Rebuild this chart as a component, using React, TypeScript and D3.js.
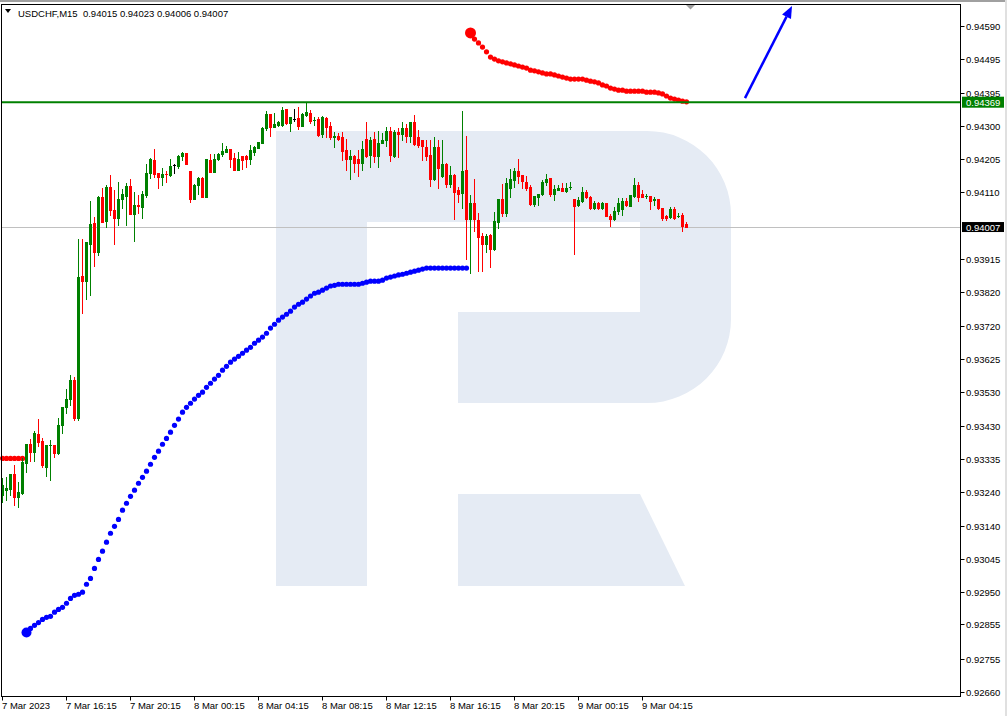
import React from "react";
import * as d3 from "d3";

const SYMBOL = "USDCHF,M15";
const OPEN = [
  0.93229,0.93244,0.93246,0.93290,0.93223,0.93235,0.93322,0.93377,0.93354,0.93406,
  0.93386,0.93310,0.93374,0.93374,0.93351,0.93432,0.93484,0.93508,0.93563,0.93452,
  0.93865,0.93850,0.93957,0.94018,0.93934,0.94094,0.94024,0.94123,0.94056,0.94033,
  0.94088,0.94097,0.94126,0.94045,0.94071,0.94065,0.94100,0.94164,0.94201,0.94164,
  0.94152,0.94161,0.94158,0.94187,0.94184,0.94213,0.94222,0.94169,0.94088,0.94129,
  0.94149,0.94094,0.94201,0.94166,0.94204,0.94219,0.94224,0.94233,0.94207,0.94172,
  0.94213,0.94213,0.94204,0.94224,0.94236,0.94251,0.94294,0.94335,0.94297,0.94303,
  0.94303,0.94349,0.94309,0.94320,0.94323,0.94300,0.94332,0.94338,0.94317,0.94320,
  0.94277,0.94323,0.94300,0.94268,0.94271,0.94268,0.94230,0.94204,0.94213,0.94204,
  0.94193,0.94262,0.94216,0.94262,0.94213,0.94251,0.94259,0.94285,0.94213,0.94282,
  0.94277,0.94294,0.94271,0.94311,0.94268,0.94259,0.94239,0.94216,0.94146,0.94239,
  0.94155,0.94190,0.94132,0.94158,0.94114,0.94105,0.94172,0.94030,0.94076,0.94027,
  0.93981,0.93957,0.93984,0.93943,0.94021,0.94088,0.94047,0.94120,0.94143,0.94169,
  0.94158,0.94137,0.94123,0.94074,0.94094,0.94103,0.94137,0.94149,0.94103,0.94114,
  0.94120,0.94111,0.94123,0.94088,0.94071,0.94082,0.94108,0.94094,0.94062,0.94076,
  0.94062,0.94076,0.94039,0.94030,0.94053,0.94059,0.94082,0.94068,0.94097,0.94129,
  0.94103,0.94097,0.94097,0.94085,0.94088,0.94062,0.94039,0.94036,0.94059,0.94039,
  0.94042,0.94015,
];
const HIGH = [
  0.93278,0.93281,0.93290,0.93316,0.93267,0.93336,0.93377,0.93392,0.93415,0.93450,
  0.93394,0.93374,0.93389,0.93376,0.93452,0.93484,0.93537,0.93577,0.93571,0.93972,
  0.93972,0.93963,0.94082,0.94036,0.94097,0.94120,0.94129,0.94158,0.94114,0.94137,
  0.94117,0.94134,0.94146,0.94108,0.94100,0.94111,0.94190,0.94207,0.94233,0.94164,
  0.94178,0.94169,0.94204,0.94190,0.94216,0.94224,0.94222,0.94169,0.94132,0.94152,
  0.94152,0.94204,0.94219,0.94219,0.94222,0.94251,0.94242,0.94233,0.94222,0.94224,
  0.94213,0.94216,0.94245,0.94242,0.94253,0.94297,0.94343,0.94335,0.94338,0.94314,
  0.94355,0.94349,0.94326,0.94349,0.94355,0.94338,0.94367,0.94346,0.94326,0.94326,
  0.94329,0.94326,0.94311,0.94282,0.94280,0.94282,0.94262,0.94230,0.94216,0.94230,
  0.94256,0.94311,0.94268,0.94282,0.94285,0.94280,0.94297,0.94297,0.94288,0.94294,
  0.94311,0.94306,0.94311,0.94332,0.94288,0.94259,0.94259,0.94259,0.94268,0.94259,
  0.94259,0.94193,0.94184,0.94161,0.94123,0.94343,0.94271,0.94100,0.94146,0.94047,
  0.93989,0.93986,0.93986,0.94050,0.94088,0.94132,0.94149,0.94175,0.94178,0.94204,
  0.94158,0.94155,0.94129,0.94097,0.94103,0.94143,0.94161,0.94149,0.94129,0.94129,
  0.94134,0.94134,0.94137,0.94088,0.94094,0.94123,0.94114,0.94097,0.94082,0.94079,
  0.94079,0.94076,0.94045,0.94065,0.94091,0.94091,0.94091,0.94100,0.94149,0.94137,
  0.94114,0.94103,0.94097,0.94094,0.94088,0.94062,0.94042,0.94065,0.94065,0.94047,
  0.94047,0.94023,
];
const LOW = [
  0.93209,0.93215,0.93229,0.93200,0.93194,0.93232,0.93296,0.93328,0.93328,0.93371,
  0.93310,0.93284,0.93273,0.93339,0.93349,0.93409,0.93467,0.93490,0.93447,0.93447,
  0.93757,0.93798,0.93809,0.93894,0.93926,0.94021,0.94007,0.94042,0.93957,0.94013,
  0.94062,0.94013,0.94045,0.93966,0.94047,0.94033,0.94094,0.94149,0.94152,0.94120,
  0.94129,0.94137,0.94155,0.94164,0.94178,0.94201,0.94190,0.94079,0.94088,0.94103,
  0.94094,0.94094,0.94166,0.94166,0.94201,0.94213,0.94224,0.94181,0.94172,0.94172,
  0.94175,0.94181,0.94190,0.94216,0.94236,0.94251,0.94288,0.94271,0.94297,0.94300,
  0.94300,0.94306,0.94285,0.94314,0.94291,0.94300,0.94329,0.94309,0.94303,0.94271,
  0.94268,0.94268,0.94262,0.94239,0.94259,0.94201,0.94172,0.94146,0.94166,0.94155,
  0.94172,0.94210,0.94181,0.94195,0.94181,0.94251,0.94242,0.94198,0.94210,0.94210,
  0.94259,0.94253,0.94253,0.94245,0.94239,0.94201,0.94201,0.94126,0.94143,0.94120,
  0.94152,0.94123,0.94123,0.94030,0.94079,0.94062,0.93914,0.93873,0.93995,0.93879,
  0.93879,0.93934,0.93891,0.93940,0.94004,0.94039,0.94039,0.94094,0.94123,0.94134,
  0.94120,0.94114,0.94071,0.94068,0.94071,0.94100,0.94129,0.94097,0.94085,0.94114,
  0.94111,0.94108,0.94117,0.93928,0.94068,0.94079,0.94091,0.94059,0.94059,0.94059,
  0.94059,0.94039,0.94010,0.94027,0.94045,0.94042,0.94068,0.94068,0.94094,0.94082,
  0.94094,0.94091,0.94059,0.94071,0.94059,0.94027,0.94027,0.94033,0.94030,0.94036,
  0.93995,0.94006,
];
const CLOSE = [
  0.93258,0.93249,0.93290,0.93223,0.93238,0.93325,0.93377,0.93354,0.93409,0.93383,
  0.93316,0.93374,0.93375,0.93351,0.93432,0.93484,0.93508,0.93563,0.93452,0.93862,
  0.93850,0.93963,0.94016,0.93934,0.94094,0.94021,0.94123,0.94056,0.94033,0.94088,
  0.94103,0.94126,0.94045,0.94071,0.94068,0.94103,0.94164,0.94204,0.94161,0.94152,
  0.94161,0.94160,0.94184,0.94187,0.94213,0.94222,0.94190,0.94088,0.94129,0.94149,
  0.94094,0.94204,0.94166,0.94204,0.94219,0.94227,0.94233,0.94204,0.94172,0.94204,
  0.94201,0.94204,0.94230,0.94239,0.94253,0.94294,0.94335,0.94297,0.94306,0.94311,
  0.94346,0.94309,0.94326,0.94320,0.94300,0.94335,0.94340,0.94314,0.94318,0.94274,
  0.94326,0.94297,0.94268,0.94271,0.94262,0.94227,0.94204,0.94213,0.94193,0.94193,
  0.94233,0.94213,0.94259,0.94213,0.94251,0.94259,0.94285,0.94216,0.94282,0.94277,
  0.94294,0.94271,0.94311,0.94248,0.94245,0.94242,0.94213,0.94146,0.94239,0.94178,
  0.94190,0.94132,0.94158,0.94108,0.94103,0.94169,0.94030,0.94076,0.94030,0.93978,
  0.93957,0.93981,0.93943,0.94024,0.94088,0.94047,0.94134,0.94146,0.94169,0.94155,
  0.94140,0.94120,0.94074,0.94097,0.94103,0.94137,0.94146,0.94103,0.94117,0.94120,
  0.94111,0.94120,0.94124,0.94068,0.94085,0.94108,0.94094,0.94062,0.94076,0.94062,
  0.94076,0.94039,0.94030,0.94053,0.94076,0.94082,0.94071,0.94100,0.94129,0.94094,
  0.94094,0.94098,0.94082,0.94088,0.94062,0.94033,0.94033,0.94059,0.94033,0.94040,
  0.94010,0.94007,
];

// Indicator dots (rising support trail in blue, falling resistance trail in red)
const BLUE_START = 6;
const BLUE_DOTS = [
  0.92831,0.92843,0.92852,0.92860,0.92869,0.92875,0.92878,0.92890,0.92898,0.92904,
  0.92916,0.92930,0.92939,0.92942,0.92948,0.92971,0.92988,0.93017,0.93043,0.93067,
  0.93093,0.93119,0.93139,0.93159,0.93186,0.93206,0.93226,0.93244,0.93264,0.93281,
  0.93299,0.93319,0.93339,0.93357,0.93377,0.93394,0.93412,0.93432,0.93450,0.93470,
  0.93484,0.93496,0.93508,0.93519,0.93528,0.93542,0.93554,0.93566,0.93577,0.93592,
  0.93603,0.93615,0.93624,0.93632,0.93641,0.93650,0.93658,0.93670,0.93679,0.93688,
  0.93699,0.93714,0.93725,0.93737,0.93746,0.93754,0.93763,0.93775,0.93783,0.93789,
  0.93798,0.93807,0.93815,0.93818,0.93824,0.93830,0.93836,0.93838,0.93841,0.93841,
  0.93841,0.93841,0.93841,0.93841,0.93844,0.93847,0.93850,0.93850,0.93850,0.93853,
  0.93859,0.93862,0.93865,0.93868,0.93870,0.93873,0.93876,0.93879,0.93882,0.93885,
  0.93888,0.93888,0.93888,0.93888,0.93888,0.93888,0.93888,0.93888,0.93888,0.93888,
  0.93888,
];
const RED_LEFT_START = 0;
const RED_LEFT_DOTS = [0.93336,0.93336,0.93336,0.93336,0.93336,0.93336];
const RED_START = 117;
const RED_DOTS = [
  0.94570,0.94552,0.94541,0.94529,0.94515,0.94500,0.94494,0.94489,0.94486,0.94483,
  0.94480,0.94477,0.94474,0.94471,0.94468,0.94462,0.94460,0.94457,0.94454,0.94451,
  0.94451,0.94448,0.94445,0.94442,0.94439,0.94436,0.94436,0.94436,0.94436,0.94433,
  0.94430,0.94428,0.94425,0.94419,0.94416,0.94410,0.94407,0.94404,0.94404,0.94401,
  0.94401,0.94401,0.94401,0.94401,0.94398,0.94398,0.94398,0.94396,0.94393,0.94387,
  0.94381,0.94378,0.94375,0.94372,0.94370,
];

const LEVEL = 0.94369;
const ARROW_FROM = { i: 185.75, p: 0.94381 };
const ARROW_TO = { i: 197.5, p: 0.94648 };

const PRICE_TICKS = [
  0.94590,0.94495,0.94395,0.94300,0.94205,0.94110,0.93915,0.93820,0.93720,0.93625,
  0.93530,0.93430,0.93335,0.93240,0.93140,0.93045,0.92950,0.92855,0.92755,0.92660,
];
const TIME_TICK_INDEX = [0,16,32,48,64,80,96,112,128,144,160];
const TIME_TICK_LABELS = [
  "7 Mar 2023","7 Mar 16:15","7 Mar 20:15","8 Mar 00:15","8 Mar 04:15","8 Mar 08:15",
  "8 Mar 12:15","8 Mar 16:15","8 Mar 20:15","9 Mar 00:15","9 Mar 04:15",
];

const W = 1007, H = 716;
const PL = 1.5, PR = 960.5, PT = 4.5, PB = 696.5;
const FONT = "'Liberation Sans', Arial, sans-serif";
const BULL = "#008000", BEAR = "#ff0000";
const LOGO = "#e5ebf4";

export default function App() {
  const n = OPEN.length;
  const x = d3.scaleLinear().domain([0, n - 1]).range([2, 2 + 4 * (n - 1)]);
  const y = d3.scaleLinear().domain([0.9266, 0.9459]).range([691.5, 26]);
  const ry = (v: number) => Math.round(y(v));

  const last = n - 1;
  const fmt = (v: number) => v.toFixed(5);

  const candles = OPEN.map((o, i) => {
    const h = HIGH[i], l = LOW[i], c = CLOSE[i];
    const col = c === o ? "#000000" : c > o ? BULL : BEAR;
    const cx = x(i);
    const yh = ry(h), yl = ry(l);
    const yt = ry(Math.max(o, c)), yb = ry(Math.min(o, c));
    return (
      <g key={i} fill={col}>
        <rect x={cx} y={yh} width={1} height={Math.max(1, yl - yh + 1)} />
        <rect x={cx - 1} y={yt} width={3} height={Math.max(1, yb - yt + 1)} />
      </g>
    );
  });

  const dots = (arr: number[], start: number, color: string, bigFirst: number) =>
    arr.map((v, k) => (
      <circle key={k} cx={x(start + k) + 0.5} cy={y(v)} r={k === 0 && bigFirst ? bigFirst : 2.6} fill={color} />
    ));

  // arrow
  const ax1 = x(ARROW_FROM.i), ay1 = y(ARROW_FROM.p);
  const ax2 = x(ARROW_TO.i), ay2 = y(ARROW_TO.p);
  const ang = Math.atan2(ay2 - ay1, ax2 - ax1);
  const hl = 12, hw = 5;
  const bx = ax2 - hl * Math.cos(ang), by = ay2 - hl * Math.sin(ang);
  const head = [
    [ax2, ay2],
    [bx + hw * Math.sin(ang), by - hw * Math.cos(ang)],
    [bx - hw * Math.sin(ang), by + hw * Math.cos(ang)],
  ].map((p) => p.join(",")).join(" ");

  const yLevel = y(LEVEL);
  const yLast = y(CLOSE[last]);

  return (
    <svg width={W} height={H} style={{ position: "absolute", left: 0, top: 0, background: "#fff" }} fontFamily={FONT}>
      <rect x={0} y={0} width={W} height={H} fill="#fff" />
      <rect x={0} y={0} width={W} height={2} fill="#a0a0a0" />
      <rect x={1005} y={0} width={2} height={H} fill="#e0e0e0" />
      {/* watermark logo */}
      <path
        d="M276,131 H647 A84,84 0 0 1 731,215 V319 A84,84 0 0 1 647,403 H458 V312 H640 V222 H367 V586 H276 Z"
        fill={LOGO}
      />
      <path d="M458,494 H640 L685,586 H458 Z" fill={LOGO} />

      {/* current price line */}
      <line x1={PL} x2={PR} y1={Math.round(yLast) + 0.5} y2={Math.round(yLast) + 0.5} stroke="#c0c0c0" strokeWidth={1} />

      {/* indicator dots under candles */}
      {dots(BLUE_DOTS, BLUE_START, "#0000ff", 5)}
      {dots(RED_LEFT_DOTS, RED_LEFT_START, "#ff0000", 0)}

      {candles}

      {dots(RED_DOTS, RED_START, "#ff0000", 5.5)}

      {/* level line */}
      <line x1={PL} x2={PR} y1={yLevel} y2={yLevel} stroke="#008000" strokeWidth={2} />

      {/* arrow */}
      <line x1={ax1} y1={ay1} x2={bx} y2={by} stroke="#0000ff" strokeWidth={2.5} />
      <polygon points={head} fill="#0000ff" />

      {/* chart shift marker */}
      <polygon points="686,5 695,5 690.5,9.5" fill="#a0a0a0" />

      {/* frame */}
      <rect x={PL} y={PT} width={PR - PL} height={PB - PT} fill="none" stroke="#000" strokeWidth={1} />

      {/* price axis */}
      {PRICE_TICKS.map((t) => {
        const ty = Math.round(y(t)) + 0.5;
        return (
          <g key={t}>
            <line x1={PR} x2={PR + 4} y1={ty} y2={ty} stroke="#000" />
            <text x={966} y={ty + 3.5} fontSize={9.5} fill="#000">{fmt(t)}</text>
          </g>
        );
      })}
      <rect x={962} y={yLevel - 5.5} width={42} height={11} fill="#008000" />
      <text x={966} y={yLevel + 3.5} fontSize={9.5} fill="#fff">{fmt(LEVEL)}</text>
      <rect x={962} y={yLast - 5} width={42} height={10} fill="#000" />
      <text x={966} y={yLast + 3.5} fontSize={9.5} fill="#fff">{fmt(CLOSE[last])}</text>

      {/* time axis */}
      {TIME_TICK_INDEX.map((ti, k) => {
        const tx = Math.round(x(ti)) + 0.5;
        return (
          <g key={ti}>
            <line x1={tx} x2={tx} y1={PB} y2={PB + 4} stroke="#000" />
            <text x={k === 0 ? 2 : tx - 0.5} y={709} fontSize={9.5} fill="#000">{TIME_TICK_LABELS[k]}</text>
          </g>
        );
      })}

      {/* header */}
      <polygon points="5,9 11,9 8,13" fill="#000" />
      <text x={18} y={17} fontSize={9.5} fill="#000" style={{ whiteSpace: "pre" }}>
        {`${SYMBOL}  ${fmt(OPEN[last])} ${fmt(HIGH[last])} ${fmt(LOW[last])} ${fmt(CLOSE[last])}`}
      </text>
    </svg>
  );
}
